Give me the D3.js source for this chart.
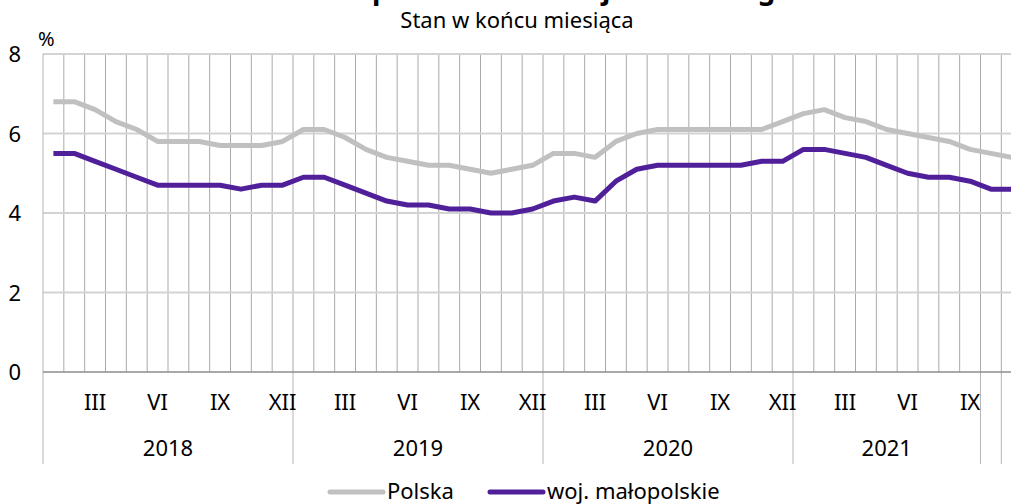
<!DOCTYPE html>
<html>
<head>
<meta charset="utf-8">
<script src="https://cdn.jsdelivr.net/npm/d3@7.9.0/dist/d3.min.js"></script>
<style>
  body { margin: 0; background: #fff; }
  svg { display: block; font-family: "Noto Sans", sans-serif; }
</style>
</head>
<body>
<svg id="chart" width="1011" height="504"></svg>
<script>
// Monthly values, I 2018 - XI 2021 (%)
const polska = [
  6.8, 6.8, 6.6, 6.3, 6.1, 5.8, 5.8, 5.8, 5.7, 5.7, 5.7, 5.8,
  6.1, 6.1, 5.9, 5.6, 5.4, 5.3, 5.2, 5.2, 5.1, 5.0, 5.1, 5.2,
  5.5, 5.5, 5.4, 5.8, 6.0, 6.1, 6.1, 6.1, 6.1, 6.1, 6.1, 6.3,
  6.5, 6.6, 6.4, 6.3, 6.1, 6.0, 5.9, 5.8, 5.6, 5.5, 5.4
];
const malopolskie = [
  5.5, 5.5, 5.3, 5.1, 4.9, 4.7, 4.7, 4.7, 4.7, 4.6, 4.7, 4.7,
  4.9, 4.9, 4.7, 4.5, 4.3, 4.2, 4.2, 4.1, 4.1, 4.0, 4.0, 4.1,
  4.3, 4.4, 4.3, 4.8, 5.1, 5.2, 5.2, 5.2, 5.2, 5.2, 5.3, 5.3,
  5.6, 5.6, 5.5, 5.4, 5.2, 5.0, 4.9, 4.9, 4.8, 4.6, 4.6
];
const monthTicks = ["", "", "III", "", "", "VI", "", "", "IX", "", "", "XII"];
const yearGroups = [
  { label: "2018", months: 12 },
  { label: "2019", months: 12 },
  { label: "2020", months: 12 },
  { label: "2021", months: 9 },
  { label: "", months: 1 },
  { label: "", months: 1 }
];
const yTicks = [0, 2, 4, 6, 8];
const seriesNames = ["Polska", "woj. małopolskie"];
const colors = ["#c0c0c0", "#50209a"];

const svg = d3.select("#chart");
const plotLeft = 43, plotTop = 54, plotBottom = 372;
const step = 250 / 12;
const n = polska.length;

// month band scale (chart continues slightly past the right edge)
const x = d3.scaleBand()
  .domain(d3.range(n))
  .range([plotLeft, plotLeft + n * step])
  .padding(0);
const cx = i => x(i) + x.bandwidth() / 2;
const y = d3.scaleLinear().domain([0, 8]).range([plotBottom, plotTop]);

// title (cut by the top edge) and subtitle
svg.append("text")
  .attr("x", 560).attr("y", -1)
  .attr("text-anchor", "middle")
  .attr("font-size", 28).attr("font-weight", "bold")
  .text("Stopa bezrobocia rejestrowanego");
svg.append("text")
  .attr("x", 517).attr("y", 28)
  .attr("text-anchor", "middle")
  .attr("font-size", 22)
  .text("Stan w końcu miesiąca");

// vertical month gridlines
svg.append("g")
  .selectAll("line")
  .data(d3.range(1, n + 1))
  .join("line")
  .attr("x1", k => plotLeft + k * step).attr("x2", k => plotLeft + k * step)
  .attr("y1", plotTop).attr("y2", plotBottom)
  .attr("stroke", "#a9a9a9").attr("stroke-width", 1);

// horizontal gridlines
svg.append("g")
  .selectAll("line")
  .data(yTicks.filter(v => v > 0))
  .join("line")
  .attr("x1", plotLeft).attr("x2", 1011)
  .attr("y1", d => y(d)).attr("y2", d => y(d))
  .attr("stroke", "#d3d3d3").attr("stroke-width", 2);

// y labels
svg.append("g")
  .selectAll("text")
  .data(yTicks)
  .join("text")
  .attr("x", 21).attr("y", d => y(d) + 8)
  .attr("text-anchor", "end")
  .attr("font-size", 22)
  .text(d => d);
svg.append("text")
  .attr("x", 38).attr("y", 46)
  .attr("font-size", 20)
  .text("%");

// category axis: group separators
let acc = 0;
const bounds = [0];
yearGroups.forEach(g => { acc += g.months; bounds.push(acc); });
svg.append("g")
  .selectAll("line")
  .data(bounds)
  .join("line")
  .attr("x1", k => plotLeft + k * step).attr("x2", k => plotLeft + k * step)
  .attr("y1", k => k === 0 ? plotTop : plotBottom).attr("y2", 464)
  .attr("stroke", "#b5b5b5").attr("stroke-width", 1);

// baseline
svg.append("line")
  .attr("x1", plotLeft).attr("x2", 1011)
  .attr("y1", y(0)).attr("y2", y(0))
  .attr("stroke", "#8c8c8c").attr("stroke-width", 1.5);

// month labels
svg.append("g")
  .selectAll("text")
  .data(d3.range(n))
  .join("text")
  .attr("x", i => cx(i)).attr("y", 410)
  .attr("text-anchor", "middle")
  .attr("font-size", 22)
  .text(i => monthTicks[i % 12]);

// year labels
let start = 0;
const yearPos = yearGroups.map(g => {
  const p = { label: g.label, mid: plotLeft + (start + g.months / 2) * step };
  start += g.months;
  return p;
});
svg.append("g")
  .selectAll("text")
  .data(yearPos)
  .join("text")
  .attr("x", d => d.mid).attr("y", 456)
  .attr("text-anchor", "middle")
  .attr("font-size", 22)
  .text(d => d.label);

// series lines
const line = d3.line().x((d, i) => cx(i)).y(d => y(d));
[polska, malopolskie].forEach((s, k) => {
  svg.append("path")
    .datum(s)
    .attr("d", line)
    .attr("fill", "none")
    .attr("stroke", colors[k])
    .attr("stroke-width", 5)
    .attr("stroke-linejoin", "round");
});

// legend
const legendX = [330, 490];
seriesNames.forEach((name, k) => {
  svg.append("line")
    .attr("x1", legendX[k]).attr("x2", legendX[k] + 53)
    .attr("y1", 492).attr("y2", 492)
    .attr("stroke", colors[k]).attr("stroke-width", 5)
    .attr("stroke-linecap", "round");
  svg.append("text")
    .attr("x", legendX[k] + 57).attr("y", 499)
    .attr("font-size", 22)
    .text(name);
});
</script>
</body>
</html>
